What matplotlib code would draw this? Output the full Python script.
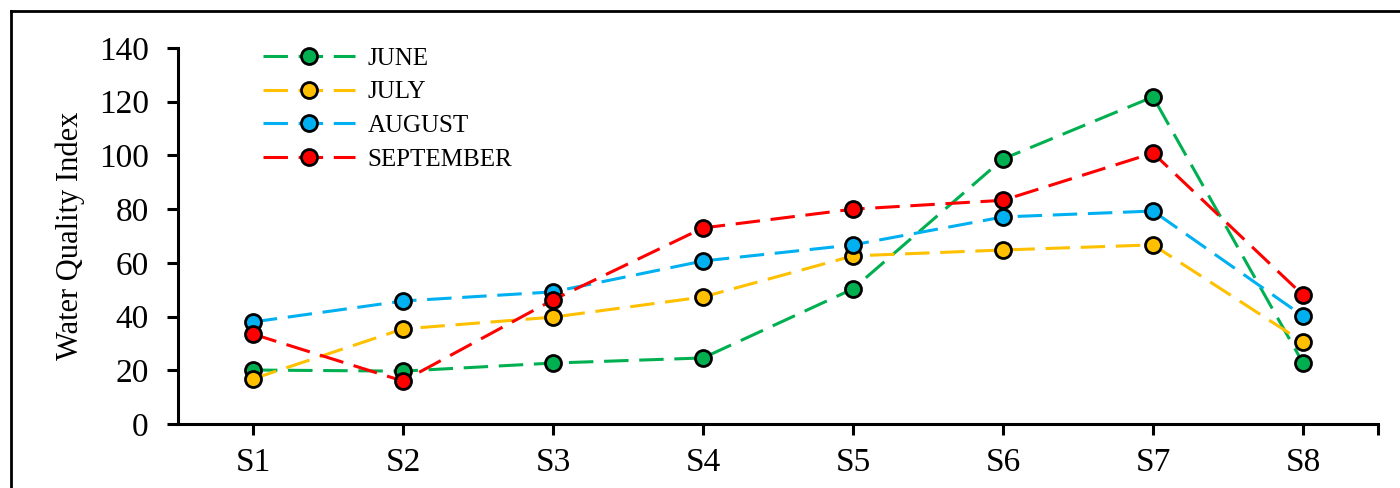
import matplotlib.pyplot as plt
from matplotlib.lines import Line2D

sites = ['S1', 'S2', 'S3', 'S4', 'S5', 'S6', 'S7', 'S8']
june = [20.1, 19.7, 22.7, 24.6, 50.3, 98.7, 121.8, 22.7]
july = [16.8, 35.4, 39.8, 47.3, 62.6, 64.8, 66.7, 30.5]
august = [38.0, 45.8, 49.2, 60.7, 66.7, 77.1, 79.3, 40.2]
september = [33.5, 16.0, 46.2, 73.0, 80.0, 83.3, 100.9, 48.0]
yticks = [0, 20, 40, 60, 80, 100, 120, 140]

plt.rcParams['font.family'] = ['Liberation Serif', 'DejaVu Serif']

fig = plt.figure(figsize=(14, 4.88), dpi=100)
ax = fig.add_axes([0.1271, 0.1311, 0.8572, 0.7705])

series = [('JUNE', june, '#00B050'), ('JULY', july, '#FFC000'),
          ('AUGUST', august, '#00B0F0'), ('SEPTEMBER', september, '#FF0000')]
x = list(range(len(sites)))
for name, vals, col in series:
    ax.plot(x, vals, color=col, linestyle=(0, (8, 3.5)), linewidth=2.2,
            marker='o', markersize=11.5, markerfacecolor=col,
            markeredgecolor='black', markeredgewidth=2, label=name)

ax.set_xlim(-0.5, 7.5)
ax.set_ylim(0, 140)
ax.set_yticks(yticks)
ax.set_xticks(x)
ax.set_xticklabels(sites)
ax.set_xticks([7.5], minor=True)
ax.tick_params(axis='both', which='both', direction='out', length=8, width=2.2,
               labelsize=24, color='black')
ax.tick_params(axis='x', pad=9)
ax.tick_params(axis='y', pad=13)
for s in ['top', 'right']:
    ax.spines[s].set_visible(False)
for s in ['left', 'bottom']:
    ax.spines[s].set_linewidth(2.2)
ax.set_ylabel('Water Quality Index', fontsize=22, labelpad=10)

ax.legend(loc='upper left', bbox_to_anchor=(0.052, 1.062), frameon=False,
          fontsize=18, handlelength=3.7, labelspacing=0.45, handletextpad=0.5)

# outer frame (top and left edges)
fig.add_artist(Line2D([11 / 1400, 1], [1 - 11 / 488, 1 - 11 / 488],
                      transform=fig.transFigure, color='black', linewidth=2))
fig.add_artist(Line2D([11 / 1400, 11 / 1400], [0, 1 - 11 / 488],
                      transform=fig.transFigure, color='black', linewidth=2))

fig.savefig('out.png', dpi=100)
